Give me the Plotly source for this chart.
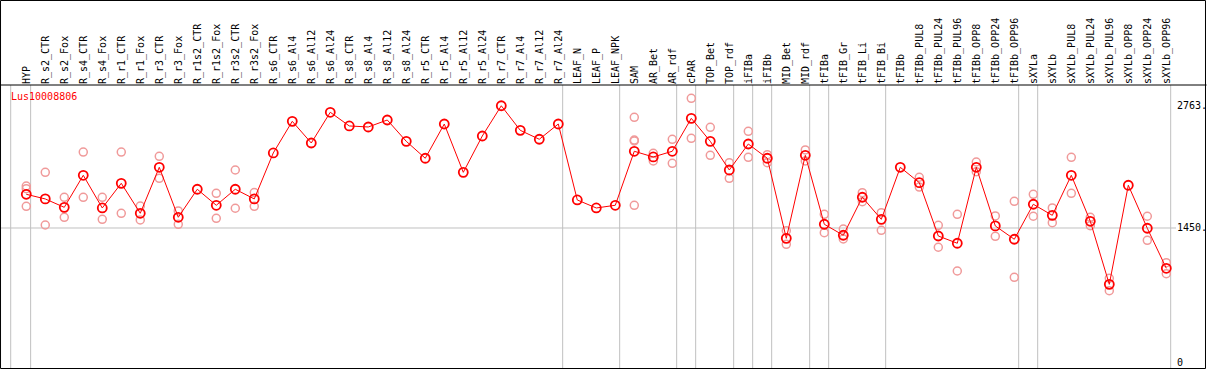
import plotly.graph_objects as go

labels = ["HYP", "R_s2_CTR", "R_s2_Fox", "R_s4_CTR", "R_s4_Fox", "R_r1_CTR", "R_r1_Fox",
          "R_r3_CTR", "R_r3_Fox", "R_r1s2_CTR", "R_r1s2_Fox", "R_r3s2_CTR", "R_r3s2_Fox",
          "R_s6_CTR", "R_s6_Al4", "R_s6_Al12", "R_s6_Al24", "R_s8_CTR", "R_s8_Al4",
          "R_s8_Al12", "R_s8_Al24", "R_r5_CTR", "R_r5_Al4", "R_r5_Al12", "R_r5_Al24",
          "R_r7_CTR", "R_r7_Al4", "R_r7_Al12", "R_r7_Al24", "LEAF_N", "LEAF_P", "LEAF_NPK",
          "SAM", "AR_Bet", "AR_rdf", "cPAR", "TOP_Bet", "TOP_rdf", "iFIBa", "iFIBb",
          "MID_Bet", "MID_rdf", "tFIBa", "tFIB_Gr", "tFIB_Li", "tFIB_Bi", "tFIBb",
          "tFIBb_PUL8", "tFIBb_PUL24", "tFIBb_PUL96", "tFIBb_OPP8", "tFIBb_OPP24",
          "tFIBb_OPP96", "sXYLa", "sXYLb", "sXYLb_PUL8", "sXYLb_PUL24", "sXYLb_PUL96",
          "sXYLb_OPP8", "sXYLb_OPP24", "sXYLb_OPP96"]

mean_vals = [1812, 1762, 1672, 2016, 1665, 1930, 1608, 2102, 1565, 1866, 1694, 1866, 1762,
             2256, 2596, 2363, 2693, 2546, 2535, 2610, 2381, 2199, 2567, 2048, 2438,
             2763, 2499, 2403, 2567, 1751, 1665, 1694,
             2274, 2213, 2274, 2628, 2381, 2073, 2352, 2199, 1339, 2231, 1490, 1372, 1780,
             1543, 2102, 1937, 1364, 1286, 2102, 1472, 1329, 1705, 1586, 2016, 1522, 845,
             1909, 1447, 1017]

N = None
rep_a = [1901, 2048, 1780, 2266, 1780, 2266, 1686, 2220, 1633, N, 1823, 2073, 1830,
         N, N, N, N, N, N, N, N, N, N, N, N, N, N, N, N, N, N, N,
         2639, 2252, 2403, 2843, 2531, 2151, 2489, 2237, 1421, 2288, 1597, 1439, 1829,
         1614, N, 1995, 1479, 1597, 2159, 1579, 1737, 1812, 1665, 2209, 1565, 910,
         N, 1576, 1077]
rep_b = [1872, 1482, 1565, 1780, 1543, 1608, 1536, 1984, 1490, N, 1554, 1662, 1683,
         N, N, N, N, N, N, N, N, N, N, N, N, N, N, N, N, N, N, N,
         2395, 2170, 2145, 2413, 2231, 1984, 2209, 2151, 1275, 2170, 1400, 1332, 1733,
         1425, N, 1890, 1243, 988, 2055, 1361, 920, 1576, 1507, 1823, 1475, 777,
         N, 1318, 959]
rep_c = [1683] + [N] * 31 + [2385] + [N] * 28
rep_d = [N] * 32 + [1694] + [N] * 28

group_sizes = [1, 28, 3, 3, 1, 2, 1, 1, 2, 1, 3, 7, 1, 7]

y_tick_vals = [0, 1450, 2763]
y_tick_text = ["0", "1450.", "2763."]
title_text = "Lus10008806"

x_idx = list(range(len(labels)))
font_mono = "DejaVu Sans Mono"

fig = go.Figure()

for reps in (rep_a, rep_b, rep_c, rep_d):
    fig.add_trace(go.Scatter(
        x=x_idx, y=reps, mode="markers", showlegend=False,
        marker=dict(symbol="circle-open", size=8, color="#f09a9a",
                    line=dict(width=1.5, color="#f09a9a")),
    ))

fig.add_trace(go.Scatter(
    x=x_idx, y=mean_vals, mode="lines+markers", showlegend=False,
    line=dict(color="#ff0000", width=1),
    marker=dict(symbol="circle-open", size=9, color="#ff0000",
                line=dict(width=1.8, color="#ff0000")),
))

# group separators
shapes = []
ends = []
acc = -1
for g in group_sizes:
    acc += g
    ends.append(acc)
bounds = [-0.82] + [e + 0.23 for e in ends]
for b in bounds:
    shapes.append(dict(type="line", xref="x", yref="paper", x0=b, x1=b, y0=0, y1=1,
                       line=dict(color="#c0c0c0", width=1), layer="below"))
# horizontal reference line
shapes.append(dict(type="line", xref="paper", yref="y", x0=0, x1=1,
                   y0=y_tick_vals[1], y1=y_tick_vals[1],
                   line=dict(color="#c0c0c0", width=1), layer="below"))
# outer frame and header separator
shapes.append(dict(type="rect", xref="paper", yref="paper", x0=-0.0004, x1=1.0251,
                   y0=-0.0018, y1=1.2986, line=dict(color="black", width=1)))
shapes.append(dict(type="line", xref="paper", yref="paper", x0=-0.001, x1=1.026,
                   y0=1, y1=1, line=dict(color="black", width=1)))

fig.update_layout(
    width=1209, height=370,
    margin=dict(l=1, r=33, t=85, b=2, autoexpand=False),
    paper_bgcolor="white", plot_bgcolor="white",
    shapes=shapes,
    font=dict(family=font_mono, size=10, color="black"),
    xaxis=dict(range=[-1.33, 60.51], side="top", tickmode="array", tickvals=x_idx,
               ticktext=labels, tickangle=-90, showgrid=False, zeroline=False,
               ticks="", tickfont=dict(family=font_mono, size=10, color="black"),
               showline=False, automargin=False),
    yaxis=dict(range=[-54, 2986], side="right", tickmode="array", tickvals=y_tick_vals,
               ticktext=y_tick_text, showgrid=False, zeroline=False, ticks="",
               tickfont=dict(family=font_mono, size=10, color="black"), showline=False,
               automargin=False),
    annotations=[dict(text=title_text, xref="paper", yref="paper", x=0.0071, y=0.9576,
                      xanchor="left", yanchor="middle", showarrow=False,
                      font=dict(family=font_mono, size=10, color="#ff0000"))],
)

fig.write_html("out.html",
               config={"displayModeBar": False},
               post_script="document.body.style.margin='0';document.body.style.overflow='hidden';")
